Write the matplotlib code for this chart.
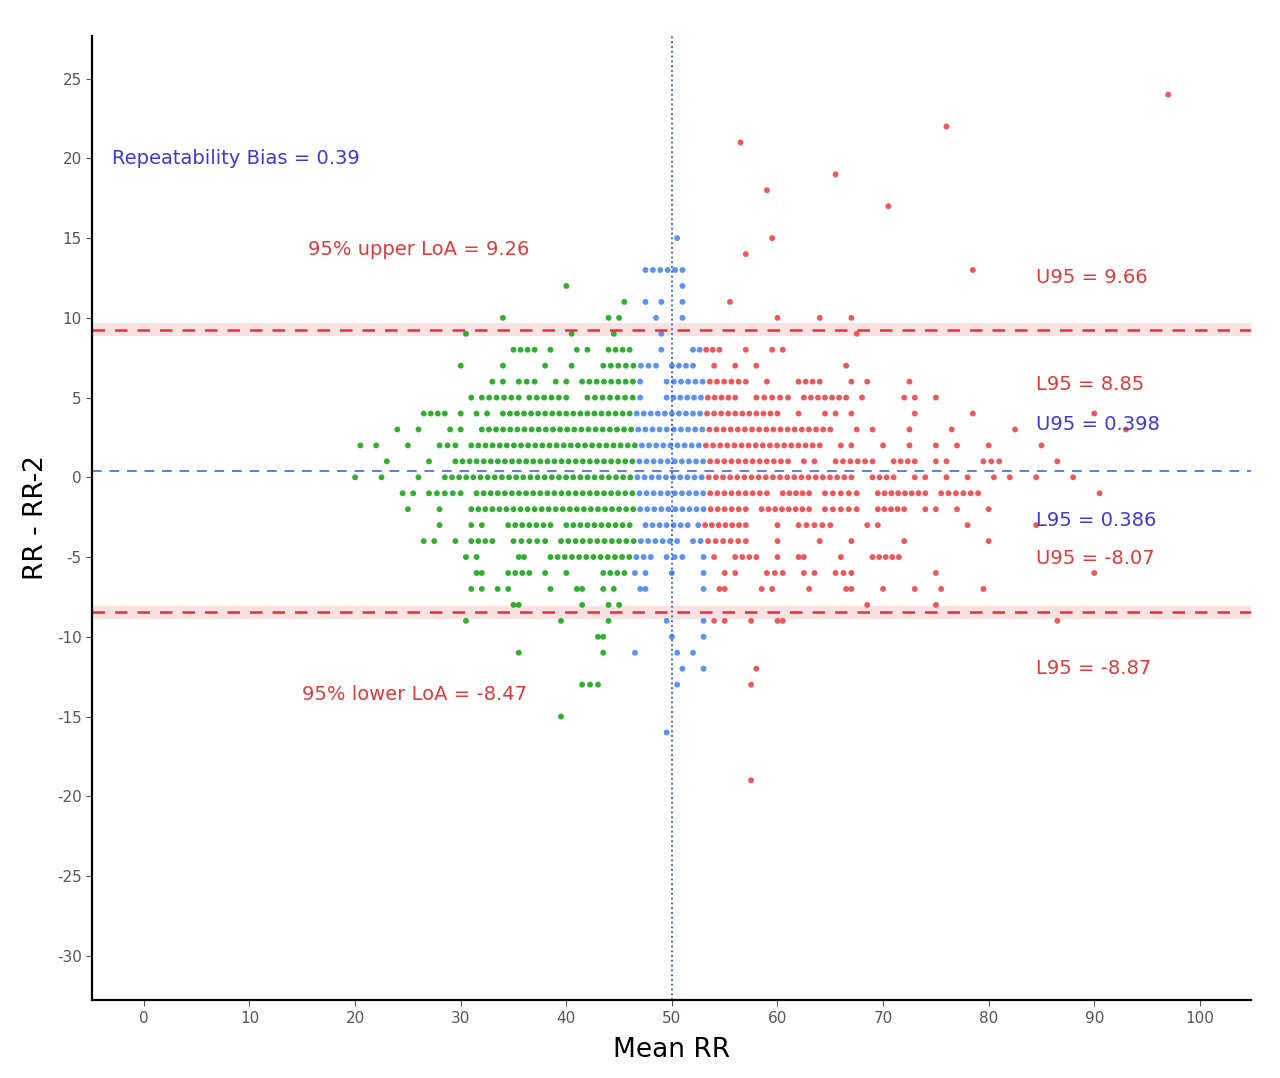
import numpy as np
import matplotlib.pyplot as plt

plt.rcParams['axes.unicode_minus'] = False

# Rows of points: (difference, x start, x end); points in a run are spaced ~0.67 apart
runs = [
    (24, 97, 97), (22, 76, 76), (21, 56.5, 56.5), (19, 65.5, 65.5), (18, 59, 59),
    (17, 70.5, 70.5), (15, 50.5, 50.5), (15, 59.5, 59.5), (14, 57, 57),
    (13, 47.5, 51), (13, 78.5, 78.5), (12, 40, 40), (12, 51, 51),
    (11, 45.5, 45.5), (11, 47.5, 47.5), (11, 49, 49), (11, 51, 51), (11, 55.5, 55.5),
    (10, 34, 34), (10, 44, 45), (10, 48.5, 48.5), (10, 51, 51), (10, 60, 60), (10, 64, 64), (10, 67, 67),
    (9, 30.5, 30.5), (9, 40.5, 40.5), (9, 44.5, 44.5), (9, 49, 49), (9, 67.5, 67.5),
    (8, 35, 37), (8, 38.5, 38.5), (8, 41, 42), (8, 44, 46), (8, 49, 49), (8, 52, 54.5),
    (8, 57, 57), (8, 59.5, 60.5),
    (7, 30, 30), (7, 34, 34), (7, 38, 38), (7, 40.5, 40.5), (7, 43.5, 48.5), (7, 50, 52),
    (7, 54, 54), (7, 56, 56), (7, 58, 58), (7, 66.5, 66.5),
    (6, 33, 34), (6, 35.5, 37), (6, 39, 40), (6, 41.5, 47), (6, 49.5, 57), (6, 59, 59),
    (6, 62, 64), (6, 67, 67), (6, 68.5, 68.5), (6, 72.5, 72.5),
    (5, 31, 31), (5, 32, 35.5), (5, 36.5, 40), (5, 42, 47), (5, 49.5, 56), (5, 58, 61),
    (5, 62.5, 66.5), (5, 68, 68), (5, 72, 72), (5, 73, 73), (5, 75, 75),
    (4, 26.5, 28.5), (4, 30, 30), (4, 31.5, 32.5), (4, 34, 60), (4, 62, 62), (4, 64.5, 65.5),
    (4, 67, 67), (4, 73, 73), (4, 78.5, 78.5), (4, 90, 90),
    (3, 24, 24), (3, 26, 26), (3, 29, 30), (3, 32, 65), (3, 67.5, 67.5), (3, 69, 69),
    (3, 72.5, 72.5), (3, 76.5, 76.5), (3, 82.5, 82.5), (3, 93, 93),
    (2, 20.5, 20.5), (2, 22, 22), (2, 25, 25), (2, 28, 29.5), (2, 31, 64), (2, 66, 67),
    (2, 70, 70), (2, 72.5, 72.5), (2, 75, 75), (2, 77, 77), (2, 80, 80), (2, 85, 85),
    (1, 23, 23), (1, 27, 27), (1, 29.5, 61), (1, 62.5, 63.5), (1, 65.5, 69), (1, 71, 73),
    (1, 75, 76), (1, 79.5, 81), (1, 86.5, 86.5),
    (0, 20, 20), (0, 22.5, 22.5), (0, 26, 26), (0, 28.5, 67), (0, 69, 71), (0, 73, 74),
    (0, 76, 76), (0, 78, 78), (0, 80.5, 80.5), (0, 82, 82), (0, 84.5, 84.5), (0, 88, 88),
    (-1, 24.5, 25.5), (-1, 27, 30), (-1, 31.5, 59), (-1, 60.5, 63), (-1, 64.5, 67.5),
    (-1, 69.5, 74), (-1, 75.5, 79), (-1, 90.5, 90.5),
    (-2, 25, 25), (-2, 28, 28), (-2, 31, 57), (-2, 58.5, 63), (-2, 64.5, 67.5), (-2, 69.5, 72),
    (-2, 74, 75), (-2, 77, 77), (-2, 80, 80),
    (-3, 28, 28), (-3, 31, 32), (-3, 34.5, 38.5), (-3, 40, 46), (-3, 47.5, 51.5), (-3, 52.5, 57),
    (-3, 60, 60), (-3, 62, 65), (-3, 68.5, 69.5), (-3, 78, 78), (-3, 84.5, 84.5),
    (-4, 26.5, 27.5), (-4, 29.5, 29.5), (-4, 31, 33), (-4, 35, 38), (-4, 39.5, 50.5),
    (-4, 52, 57), (-4, 60, 60), (-4, 64, 64), (-4, 67, 67), (-4, 72, 72), (-4, 80, 80),
    (-5, 30.5, 31.5), (-5, 35.5, 36), (-5, 38.5, 48), (-5, 49.5, 51), (-5, 53, 54),
    (-5, 56, 58), (-5, 60, 60), (-5, 62, 62.5), (-5, 66, 66), (-5, 69, 71.5),
    (-6, 31.5, 32), (-6, 34.5, 36.5), (-6, 38, 38), (-6, 40, 40), (-6, 43.5, 45.5),
    (-6, 46.5, 47.5), (-6, 50, 50), (-6, 53, 53), (-6, 55, 56), (-6, 59, 60.5),
    (-6, 62.5, 63.5), (-6, 65.5, 67), (-6, 75, 75), (-6, 90, 90),
    (-7, 31, 32), (-7, 33.5, 34.5), (-7, 38.5, 38.5), (-7, 41, 41.5), (-7, 43.5, 44.5),
    (-7, 47, 47.5), (-7, 53, 53), (-7, 54.5, 55), (-7, 58.5, 59.5), (-7, 63, 63), (-7, 66.5, 67),
    (-7, 70, 70), (-7, 73, 73), (-7, 75.5, 75.5), (-7, 79.5, 79.5),
    (-8, 35, 35.5), (-8, 41.5, 41.5), (-8, 44, 45), (-8, 68.5, 68.5), (-8, 75, 75),
    (-9, 30.5, 30.5), (-9, 39.5, 39.5), (-9, 44, 44), (-9, 49.5, 49.5), (-9, 53, 54),
    (-9, 55, 55), (-9, 57.5, 57.5), (-9, 60, 60.5), (-9, 86.5, 86.5),
    (-10, 43, 43.5), (-10, 50, 50), (-10, 53, 53),
    (-11, 35.5, 35.5), (-11, 43.5, 43.5), (-11, 46.5, 46.5), (-11, 50.5, 50.5), (-11, 52, 52),
    (-12, 51, 51), (-12, 53, 53), (-12, 58, 58),
    (-13, 41.5, 43), (-13, 50.5, 50.5), (-13, 57.5, 57.5),
    (-15, 39.5, 39.5), (-16, 49.5, 49.5), (-19, 57.5, 57.5),
]

bias = 0.39
upper_loa, lower_loa = 9.26, -8.47
upper_ci = (8.85, 9.66)
lower_ci = (-8.87, -8.07)

xs, ys = [], []
for y, a, b in runs:
    n = int(round((b - a) / 0.67)) + 1
    for x in np.linspace(a, b, n):
        xs.append(x)
        ys.append(y)
xs = np.array(xs)
ys = np.array(ys)

colors = np.where(xs < 46.5, '#1fa31f', np.where(xs <= 53, '#4d86e8', '#e8474c'))

fig = plt.figure(figsize=(12.8, 10.78), dpi=100)
ax = fig.add_axes([0.072, 0.072, 0.905, 0.895])

ax.axhspan(*upper_ci, color='#f8d0d0', alpha=0.6, lw=0)
ax.axhspan(*lower_ci, color='#f8d0d0', alpha=0.6, lw=0)
ax.axhline(upper_loa, color='#e8303a', ls=(0, (5, 4)), lw=1.8)
ax.axhline(lower_loa, color='#e8303a', ls=(0, (5, 4)), lw=1.8)
ax.axhline(bias, color='#5a7ee8', ls=(0, (5, 4)), lw=1.4)
ax.axvline(50, color='#3050d8', ls=':', lw=1.3)

ax.scatter(xs, ys, c=colors, s=18, lw=0, alpha=0.9)

ax.text(-3, 20, 'Repeatability Bias = 0.39', color='#3a3ad8', fontsize=14, va='center')
ax.text(15.5, 14.3, '95% upper LoA = 9.26', color='#e03a3a', fontsize=14, va='center')
ax.text(15, -13.6, '95% lower LoA = -8.47', color='#e03a3a', fontsize=14, va='center')
for yy, txt, col in [(12.5, 'U95 = 9.66', '#e03a3a'), (5.8, 'L95 = 8.85', '#e03a3a'),
                     (3.3, 'U95 = 0.398', '#3a3ad8'), (-2.7, 'L95 = 0.386', '#3a3ad8'),
                     (-5.1, 'U95 = -8.07', '#e03a3a'), (-12.0, 'L95 = -8.87', '#e03a3a')]:
    ax.text(84.5, yy, txt, color=col, fontsize=14, va='center')

ax.set_xlim(-4.9, 104.8)
ax.set_ylim(-32.8, 27.7)
ax.set_xticks(np.arange(0, 101, 10))
ax.set_yticks(np.arange(-30, 26, 5))
ax.tick_params(labelsize=11, colors='#555555', length=4)
ax.spines['top'].set_visible(False)
ax.spines['right'].set_visible(False)
ax.spines['left'].set_linewidth(1.6)
ax.spines['bottom'].set_linewidth(1.6)
ax.set_xlabel('Mean RR', fontsize=19, labelpad=8)
ax.set_ylabel('RR - RR-2', fontsize=19, labelpad=6)

plt.savefig('out.png', dpi=100)
